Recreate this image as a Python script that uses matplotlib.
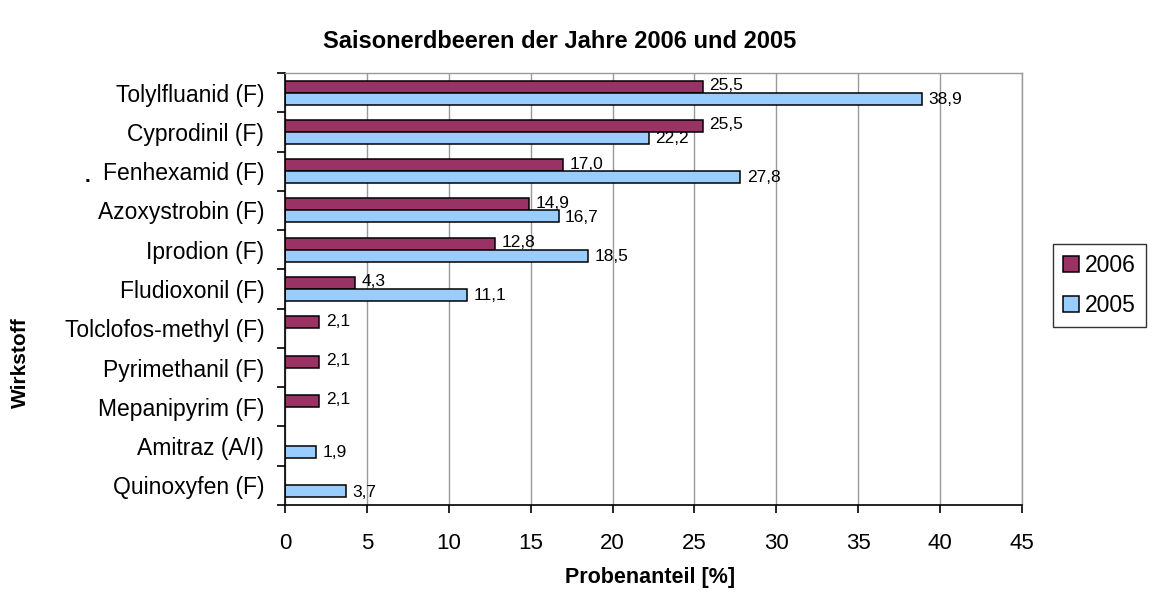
import matplotlib
matplotlib.use("Agg")
import matplotlib.pyplot as plt
import numpy as np
from matplotlib.patches import Patch

plt.rcParams['font.family'] = ['Liberation Sans', 'DejaVu Sans']

# Data (Probenanteil in %)
wirkstoffe = ["Tolylfluanid (F)", "Cyprodinil (F)", "Fenhexamid (F)", "Azoxystrobin (F)",
              "Iprodion (F)", "Fludioxonil (F)", "Tolclofos-methyl (F)", "Pyrimethanil (F)",
              "Mepanipyrim (F)", "Amitraz (A/I)", "Quinoxyfen (F)"]
werte_2006 = [25.5, 25.5, 17.0, 14.9, 12.8, 4.3, 2.1, 2.1, 2.1, np.nan, np.nan]
werte_2005 = [38.9, 22.2, 27.8, 16.7, 18.5, 11.1, np.nan, np.nan, np.nan, 1.9, 3.7]
x_ticks = [0, 5, 10, 15, 20, 25, 30, 35, 40, 45]

col_2006 = '#993366'
col_2005 = '#99CCFF'

fig = plt.figure(figsize=(11.52, 6), dpi=100)
ax = fig.add_axes([285/1152, 1 - 505/600, (1022 - 285)/1152, (505 - 73)/600])

y = np.arange(len(wirkstoffe))
h = 0.305
ax.barh(y - h/2, werte_2006, height=h, color=col_2006, edgecolor='black', linewidth=1.1)
ax.barh(y + h/2, werte_2005, height=h, color=col_2005, edgecolor='black', linewidth=1.1)

def fmt(v):
    return f"{v:.1f}".replace('.', ',')

for yy, v in zip(y - h/2, werte_2006):
    if not np.isnan(v):
        ax.text(v + 0.4, yy - 0.03, fmt(v), va='center', ha='left', fontsize=12.5)
for yy, v in zip(y + h/2, werte_2005):
    if not np.isnan(v):
        ax.text(v + 0.4, yy + 0.02, fmt(v), va='center', ha='left', fontsize=12.5)

ax.set_xlim(0, 45)
ax.set_ylim(len(wirkstoffe) - 0.5, -0.5)
ax.set_xticks(x_ticks)
ax.set_xticklabels([str(t) for t in x_ticks], fontsize=16)
ax.set_yticks(y)
ax.set_yticklabels(wirkstoffe, fontsize=16.5)
ax.set_yticks(np.arange(-0.5, len(wirkstoffe)), minor=True)
ax.tick_params(axis='y', which='major', length=0, pad=15)
ax.tick_params(axis='y', which='minor', length=6, width=1.2, direction='out', color='black')
ax.tick_params(axis='x', which='major', length=6, width=1.2, direction='out', pad=14)

ax.grid(axis='x', color='#999999', linewidth=1)
ax.set_axisbelow(True)
for s in ['top', 'right']:
    ax.spines[s].set_color('#999999')
    ax.spines[s].set_linewidth(1)
for s in ['left', 'bottom']:
    ax.spines[s].set_color('black')
    ax.spines[s].set_linewidth(1.2)

fig.text(560/1152, 1 - 41/600, "Saisonerdbeeren der Jahre 2006 und 2005",
         ha='center', va='center', fontsize=17, fontweight='bold')
fig.text(650/1152, 1 - 577/600, "Probenanteil [%]", ha='center', va='center',
         fontsize=15.5, fontweight='bold')
fig.text(20/1152, 1 - 363/600, "Wirkstoff", ha='center', va='center', rotation=90,
         fontsize=15, fontweight='bold')
fig.text(88/1152, 1 - 176/600, ".", ha='center', va='center', fontsize=15, fontweight='bold')

handles = [Patch(facecolor=col_2006, edgecolor='black', linewidth=1.1, label='2006'),
           Patch(facecolor=col_2005, edgecolor='black', linewidth=1.1, label='2005')]
leg = fig.legend(handles=handles, loc='center left', bbox_to_anchor=(1053/1152, 1 - 285.5/600),
                 fontsize=16.5, frameon=True, fancybox=False, edgecolor='black',
                 handlelength=0.7, handleheight=0.7, handletextpad=0.25,
                 labelspacing=0.75, borderpad=0.45, borderaxespad=0)
leg.get_frame().set_linewidth(1)

fig.savefig("out.png", dpi=100)
